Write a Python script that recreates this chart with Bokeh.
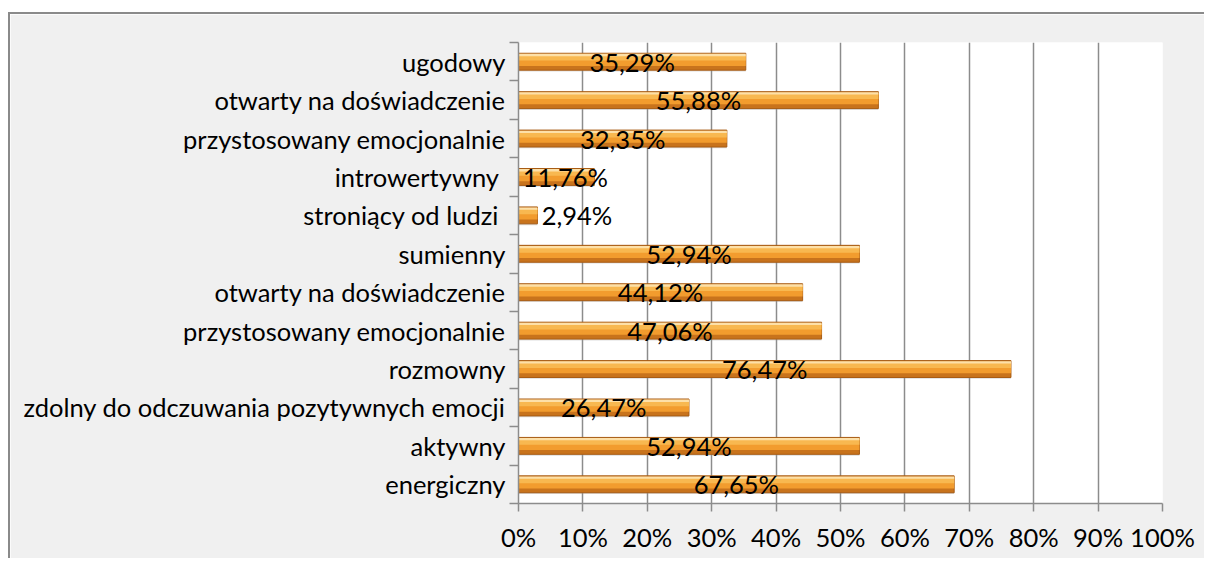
from bokeh.plotting import figure
from bokeh.models import ColumnDataSource, FixedTicker, Range1d, LabelSet
from bokeh.core.properties import value
from bokeh.transform import dodge
from bokeh.embed import file_html
from bokeh.resources import INLINE

# ---- data (bottom to top) ----
categories = [
    "energiczny",
    "aktywny",
    "zdolny do odczuwania pozytywnych emocji",
    "rozmowny",
    "przystosowany emocjonalnie",
    "otwarty na doświadczenie",
    "sumienny",
    "stroniący od ludzi ",
    "introwertywny ",
    "przystosowany emocjonalnie",
    "otwarty na doświadczenie",
    "ugodowy",
]
values = [67.65, 52.94, 26.47, 76.47, 47.06, 44.12, 52.94, 2.94, 11.76, 32.35, 55.88, 35.29]
x_ticks = [0, 10, 20, 30, 40, 50, 60, 70, 80, 90, 100]

FONT = "Lato"
FS = "25.5px"

n = len(categories)
ypos = list(range(n))
labels = [f"{v:.2f}".replace(".", ",") + "%" for v in values]
# manual label nudges (pixels) for the short bars, as in the reference
label_dx = [0] * n
label_dx[7] = 49
label_dx[8] = 9

src = ColumnDataSource(dict(
    y=ypos, v=values, half=[v / 2 for v in values], lab=labels, dx=label_dx,
))

p = figure(
    width=1196, height=546,
    x_range=Range1d(0, 100), y_range=Range1d(-0.5, n - 0.5),
    output_backend="svg", toolbar_location=None,
    min_border_left=508, min_border_right=44, min_border_top=28, min_border_bottom=57,
    background_fill_color="white", border_fill_color="#f0f0f0",
    outline_line_color=None,
    styles={"margin-top": "12px", "margin-left": "8px",
            "border-left": "2px solid #8a8a8a", "border-top": "2px solid #8a8a8a"},
)

# grid
p.xgrid.ticker = FixedTicker(ticks=x_ticks)
p.xgrid.grid_line_color = "#8c8c8c"
p.xgrid.grid_line_width = 1.5
p.ygrid.grid_line_color = None

# bars: layered to mimic the bevelled gradient
p.hbar(y=dodge("y", -0.035, range=p.y_range), right="v", left=0, height=0.44, source=src,
       fill_color="#9a9a9a", fill_alpha=0.35, line_color=None)
p.hbar(y="y", right="v", left=0, height=0.44, source=src,
       fill_color="#c8731c", line_color="#a85c14", line_width=1)
p.hbar(y=dodge("y", 0.04, range=p.y_range), right="v", left=0, height=0.30, source=src,
       fill_color="#f29c2e", line_color=None)
p.hbar(y=dodge("y", 0.10, range=p.y_range), right="v", left=0, height=0.14, source=src,
       fill_color="#f8b850", line_color=None)
p.hbar(y=dodge("y", 0.175, range=p.y_range), right="v", left=0, height=0.06, source=src,
       fill_color="#fde0a8", line_color=None)

# value labels
p.add_layout(LabelSet(x="half", y="y", text="lab", x_offset="dx", source=src,
                      text_align="center", text_baseline="middle",
                      text_font=value(FONT), text_font_size=value(FS), text_color="black"))

# x axis
p.xaxis.ticker = FixedTicker(ticks=x_ticks)
p.xaxis.major_label_overrides = {t: f"{t}%" for t in x_ticks}
p.xaxis.axis_line_color = "#8c8c8c"
p.xaxis.axis_line_width = 1.5
p.xaxis.major_tick_line_color = "#8c8c8c"
p.xaxis.major_tick_line_width = 1.5
p.xaxis.major_tick_out = 8
p.xaxis.major_tick_in = 0
p.xaxis.minor_tick_line_color = None
p.xaxis.major_label_standoff = 10
p.xaxis.major_label_text_font = FONT
p.xaxis.major_label_text_font_size = FS
p.xaxis.major_label_text_color = "black"

# y axis
p.yaxis.ticker = FixedTicker(ticks=ypos, minor_ticks=[i - 0.5 for i in range(n + 1)])
p.yaxis.major_label_overrides = {i: c for i, c in enumerate(categories)}
p.yaxis.axis_line_color = "#8c8c8c"
p.yaxis.axis_line_width = 1.5
p.yaxis.major_tick_line_color = None
p.yaxis.minor_tick_line_color = "#8c8c8c"
p.yaxis.minor_tick_line_width = 1.5
p.yaxis.minor_tick_out = 9
p.yaxis.minor_tick_in = 0
p.yaxis.major_label_standoff = 4
p.yaxis.major_label_text_font = FONT
p.yaxis.major_label_text_font_size = FS
p.yaxis.major_label_text_color = "black"

open("out.html", "w").write(file_html(p, INLINE))
